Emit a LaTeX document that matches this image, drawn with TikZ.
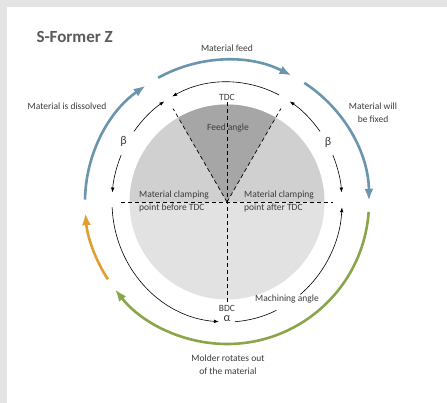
\documentclass[tikz,border=0pt]{standalone}
\usepackage{fontspec}
\setmainfont{Carlito}
\usetikzlibrary{arrows.meta}
\definecolor{feedblue}{HTML}{6B95AD}
\definecolor{moldgreen}{HTML}{8AA64A}
\definecolor{looseorange}{HTML}{E0A030}
\definecolor{framegray}{HTML}{E4E4E4}
\definecolor{diskupper}{HTML}{D0D0D0}
\definecolor{disklower}{HTML}{E2E2E2}
\definecolor{feedgray}{HTML}{A6A6A6}
\definecolor{labeltext}{HTML}{3C3C3C}
\definecolor{titletext}{HTML}{5A5A5A}
\begin{document}
\begin{tikzpicture}[x=1pt,y=1pt,
    lbl/.style={text=labeltext,font=\fontsize{9.5}{13}\selectfont,align=center,inner sep=1pt},
    greek/.style={text=labeltext,font=\fontsize{12}{14}\selectfont,inner sep=1pt},
    flow/.style={line width=2.6pt,-{Latex[length=12pt,width=9pt]}},
    sweep/.style={line width=0.6pt,-{Latex[length=5pt,width=3.5pt]}},
    guide/.style={line width=0.7pt,dash pattern=on 4pt off 3pt}]
    \useasboundingbox (-227,-201) rectangle (220,202);
    \fill[framegray] (-227,-201) rectangle (220,202);
    \fill[white] (-220,-201) rectangle (220,195);
    % disk
    \coordinate (O) at (0,0);
    \fill[diskupper] (O) -- (0:97.5pt) arc[start angle=0,end angle=180,radius=97.5pt] -- cycle;
    \fill[disklower] (O) -- (180:97.5pt) arc[start angle=180,end angle=360,radius=97.5pt] -- cycle;
    \fill[feedgray] (O) -- (60:97.5pt) arc[start angle=60,end angle=120,radius=97.5pt] -- cycle;
    \begin{scope}
      \coordinate (hl) at (-106,0);
      \coordinate (hr) at (106,0);
      \coordinate (vt) at (0,100);
      \coordinate (vb) at (0,-100);
      \coordinate (fl) at (120:108pt);
      \coordinate (fr) at (60:108pt);
    \end{scope}
    \draw[guide] (hl) -- (hr);
    \draw[guide] (vt) -- (vb);
    \draw[guide] (O) -- (fl);
    \draw[guide] (O) -- (fr);
    % outer flow
    \begin{scope}
      \coordinate (bl) at (179:142pt);
      \coordinate (bt) at (119:142pt);
      \coordinate (br) at (57:142pt);
      \coordinate (gr) at (-4:142pt);
      \coordinate (ol) at (-147:142pt);
    \end{scope}
    \draw[flow,feedblue] (bl) arc[start angle=179,end angle=125,radius=142pt];
    \draw[flow,feedblue] (bt) arc[start angle=119,end angle=63,radius=142pt];
    \draw[flow,feedblue] (br) arc[start angle=57,end angle=0.5,radius=142pt];
    \draw[flow,moldgreen] (gr) arc[start angle=-4,end angle=-142,radius=142pt];
    \draw[flow,looseorange] (ol) arc[start angle=-147,end angle=-175.5,radius=142pt];
    % inner angles
    \begin{scope}
      \coordinate (ta) at (118.5:115pt and 120pt);
      \coordinate (lba) at (144:115pt and 120pt);
      \coordinate (lbb) at (157:115pt and 120pt);
      \coordinate (rba) at (36:115pt and 120pt);
      \coordinate (rbb) at (23:115pt and 120pt);
      \coordinate (aa) at (182.5:115pt and 120pt);
      \coordinate (ab) at (274:115pt and 120pt);
      \coordinate (ac) at (309.6:115pt and 120pt);
    \end{scope}
    \draw[sweep,{Latex[length=5pt,width=3.5pt]}-] (ta) arc[start angle=118.5,end angle=63,x radius=115pt,y radius=120pt];
    \draw[sweep] (lba) arc[start angle=144,end angle=123,x radius=115pt,y radius=120pt];
    \draw[sweep] (lbb) arc[start angle=157,end angle=175.5,x radius=115pt,y radius=120pt];
    \draw[sweep] (rba) arc[start angle=36,end angle=57,x radius=115pt,y radius=120pt];
    \draw[sweep] (rbb) arc[start angle=23,end angle=4.5,x radius=115pt,y radius=120pt];
    \draw[sweep,-{Latex[length=5pt,width=3.5pt]}] (aa) arc[start angle=182.5,end angle=266,x radius=115pt,y radius=120pt];
    \draw[line width=0.6pt] (ab) arc[start angle=274,end angle=295.4,x radius=115pt,y radius=120pt];
    \draw[sweep] (ac) arc[start angle=309.6,end angle=357.5,x radius=115pt,y radius=120pt];
    % labels
    \node[anchor=base west,text=titletext,font=\fontsize{17}{20}\selectfont\bfseries] (title) at (-194,159) {S-Former Z};
    \begin{scope}[every node/.style={lbl}]
      \node (feed) at (0,154) {Material feed};
      \node (dissolved) at (-160,96) {Material is dissolved};
      \node (fixed) at (146,89.5) {Material will\\be fixed};
      \node (tdc) at (0,105) {TDC};
      \node (feedangle) at (1,74) {Feed angle};
      \node[greek] (betal) at (-103.5,61) {β};
      \node[greek] (betar) at (101,60) {β};
      \node[anchor=west,align=left] (clampl) at (-89,0.5) {Material clamping\\point before TDC};
      \node[anchor=west,align=left] (clampr) at (16,0.5) {Material clamping\\point after TDC};
      \node (bdc) at (0,-106) {BDC};
      \node[greek] (alpha) at (0,-117) {α};
      \node (machining) at (60,-97) {Machining angle};
      \node (molder) at (1,-163) {Molder rotates out\\of the material};
    \end{scope}
\end{tikzpicture}
\end{document}
